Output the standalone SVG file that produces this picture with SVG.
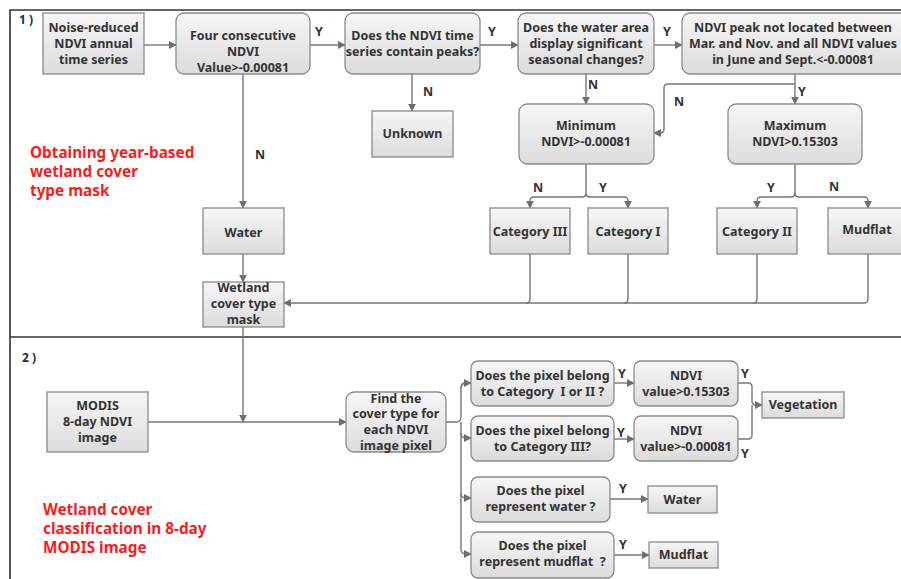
<svg xmlns="http://www.w3.org/2000/svg" width="901" height="579" viewBox="0 0 901 579">
  <defs>
    <linearGradient id="boxFill" x1="0" y1="0" x2="0" y2="1">
      <stop offset="0" stop-color="#f6f6f6"/>
      <stop offset="1" stop-color="#dcdcdc"/>
    </linearGradient>
    <marker id="arr" viewBox="0 0 10 10" refX="9" refY="5" markerWidth="8" markerHeight="8" markerUnits="userSpaceOnUse" orient="auto">
      <path d="M0,0 L10,5 L0,10 z" fill="#6f6f6f"/>
    </marker>
  </defs>
  <style>
    .box { fill: url(#boxFill); stroke: #8a8a8a; stroke-width: 1.3; }
    .t { font-family: "Noto Sans", "Open Sans", sans-serif; font-weight: bold; font-size: 12.5px; fill: #333333; text-anchor: middle; white-space: pre; }
    .lbl { font-family: "Noto Sans", "Open Sans", sans-serif; font-weight: bold; font-size: 12.5px; fill: #333333; }
    .red { font-family: "Noto Sans", "Open Sans", sans-serif; font-weight: bold; font-size: 15.3px; fill: #ff1a1a; }
    .sec { font-family: "Noto Sans", "Open Sans", sans-serif; font-weight: bold; font-size: 12px; fill: #1a2a50; }
    .c { fill: none; stroke: #767676; stroke-width: 1.4; }
    .ca { fill: none; stroke: #767676; stroke-width: 1.4; marker-end: url(#arr); }
    .frame { fill: none; stroke: #333; stroke-width: 1.6; }
  </style>

  <rect width="901" height="579" fill="#ffffff"/>

  <!-- section frame -->
  <g id="frame">
    <path class="frame" d="M10,579 V10 H901"/>
    <path class="frame" d="M10,337 H901"/>
    <text class="sec" x="19" y="24">1 )</text>
    <text class="sec" x="22" y="362">2 )</text>
    <text class="red" x="30" y="158">Obtaining year-based</text>
    <text class="red" x="30" y="177">wetland cover</text>
    <text class="red" x="30" y="196">type mask</text>
    <text class="red" x="43" y="515">Wetland cover</text>
    <text class="red" x="43" y="534">classification in 8-day</text>
    <text class="red" x="43" y="553">MODIS image</text>
  </g>

  <!-- connectors -->
  <g id="connectors">
    <path class="ca" d="M144,45 H176"/>
    <path class="ca" d="M310,45 H345"/>
    <path class="ca" d="M480,45 H518"/>
    <path class="ca" d="M654,45 H682"/>
    <path class="ca" d="M412,74 V111"/>
    <path class="ca" d="M586,74 V104"/>
    <path class="ca" d="M795,74 V104"/>
    <path class="ca" d="M795,84 H668 Q664,84 664,88 V129 Q664,133 660,133 H654"/>
    <path class="ca" d="M243,74 V208"/>
    <path class="ca" d="M243,254 V282"/>
    <path class="ca" d="M586,164 V193 Q586,197 582,197 H534 Q530,197 530,201 V208"/>
    <path class="ca" d="M586,193 Q586,197 590,197 H624 Q628,197 628,201 V208"/>
    <path class="ca" d="M795,164 V193 Q795,197 791,197 H761 Q757,197 757,201 V208"/>
    <path class="ca" d="M795,193 Q795,197 799,197 H864 Q868,197 868,201 V208"/>
    <path class="c" d="M530,254 V299 Q530,303 526,303"/>
    <path class="c" d="M628,254 V299 Q628,303 624,303"/>
    <path class="c" d="M757,254 V299 Q757,303 753,303"/>
    <path class="ca" d="M868,254 V299 Q868,303 864,303 H284"/>
    <path class="ca" d="M243,327 V422"/>
    <path class="ca" d="M148,422 H346"/>
    <path class="c" d="M446,422 H456 Q461,422 461,417 V388 Q461,383 466,383"/>
    <path class="ca" d="M461,388 Q461,383 466,383 H471"/>
    <path class="ca" d="M461,433 Q461,438 466,438 H471"/>
    <path class="ca" d="M461,493 Q461,498 466,498 H471"/>
    <path class="ca" d="M461,422 V549 Q461,554 466,554 H471"/>
    <path class="ca" d="M614,383 H634"/>
    <path class="ca" d="M614,439 H634"/>
    <path class="ca" d="M610,499 H648"/>
    <path class="ca" d="M614,555 H649"/>
    <path class="ca" d="M738,383 H748 Q752,383 752,387 V401 Q752,405 756,405 H762"/>
    <path class="c" d="M738,439 H748 Q752,439 752,435 V405"/>
    <text class="lbl" x="315" y="36">Y</text>
    <text class="lbl" x="488" y="36">Y</text>
    <text class="lbl" x="663" y="36">Y</text>
    <text class="lbl" x="423" y="96">N</text>
    <text class="lbl" x="588" y="89">N</text>
    <text class="lbl" x="798" y="96">Y</text>
    <text class="lbl" x="674" y="106">N</text>
    <text class="lbl" x="255" y="159">N</text>
    <text class="lbl" x="533" y="192">N</text>
    <text class="lbl" x="599" y="192">Y</text>
    <text class="lbl" x="767" y="192">Y</text>
    <text class="lbl" x="829" y="191">N</text>
    <text class="lbl" x="618" y="378">Y</text>
    <text class="lbl" x="617" y="437">Y</text>
    <text class="lbl" x="741" y="378">Y</text>
    <text class="lbl" x="741" y="458">Y</text>
    <text class="lbl" x="619" y="493">Y</text>
    <text class="lbl" x="619" y="549">Y</text>
  </g>

  <!-- part 1 nodes -->
  <g id="n-noise">
    <rect class="box" x="43" y="13" width="101" height="61"/>
    <text class="t" x="93.5" y="31.5">Noise-reduced</text>
    <text class="t" x="93.5" y="47.5">NDVI annual</text>
    <text class="t" x="93.5" y="63.5">time series</text>
  </g>
  <g id="n-four">
    <rect class="box" x="176" y="13" width="134" height="61" rx="8"/>
    <text class="t" x="243" y="39.5">Four consecutive</text>
    <text class="t" x="243" y="56">NDVI</text>
    <text class="t" x="243" y="72">Value&gt;-0.00081</text>
  </g>
  <g id="n-peaks">
    <rect class="box" x="345" y="13" width="135" height="61" rx="8"/>
    <text class="t" x="412.5" y="39.5">Does the NDVI time</text>
    <text class="t" x="412.5" y="56">series contain peaks?</text>
  </g>
  <g id="n-seasonal">
    <rect class="box" x="518" y="13" width="136" height="61" rx="8"/>
    <text class="t" x="586" y="31.5">Does the water area</text>
    <text class="t" x="586" y="47.5">display significant</text>
    <text class="t" x="586" y="63.5">seasonal changes?</text>
  </g>
  <g id="n-peakloc">
    <rect class="box" x="682" y="13" width="230" height="61" rx="8"/>
    <text class="t" x="793" y="31.5">NDVI peak not located between</text>
    <text class="t" x="793" y="47.5">Mar. and Nov. and all NDVI values</text>
    <text class="t" x="793" y="63.5">in June and Sept.&lt;-0.00081</text>
  </g>
  <g id="n-unknown">
    <rect class="box" x="372" y="111" width="81" height="46"/>
    <text class="t" x="412.5" y="138">Unknown</text>
  </g>
  <g id="n-minimum">
    <rect class="box" x="519" y="104" width="135" height="60" rx="8"/>
    <text class="t" x="586" y="129.5">Minimum</text>
    <text class="t" x="586" y="145.5">NDVI&gt;-0.00081</text>
  </g>
  <g id="n-maximum">
    <rect class="box" x="728" y="104" width="134" height="60" rx="8"/>
    <text class="t" x="795" y="129.5">Maximum</text>
    <text class="t" x="795" y="145.5">NDVI&gt;0.15303</text>
  </g>
  <g id="n-water1">
    <rect class="box" x="203" y="208" width="81" height="46"/>
    <text class="t" x="243.5" y="236.5">Water</text>
  </g>
  <g id="n-cat3">
    <rect class="box" x="490" y="208" width="80" height="46"/>
    <text class="t" x="530" y="235.5">Category III</text>
  </g>
  <g id="n-cat1">
    <rect class="box" x="588" y="208" width="80" height="46"/>
    <text class="t" x="628" y="235.5">Category I</text>
  </g>
  <g id="n-cat2">
    <rect class="box" x="717" y="208" width="80" height="46"/>
    <text class="t" x="757" y="235.5">Category II</text>
  </g>
  <g id="n-mudflat1">
    <rect class="box" x="828" y="208" width="80" height="46"/>
    <text class="t" x="867" y="233.5">Mudflat</text>
  </g>
  <g id="n-mask">
    <rect class="box" x="203" y="282" width="81" height="45"/>
    <text class="t" x="243.5" y="291.5">Wetland</text>
    <text class="t" x="243.5" y="307.5">cover type</text>
    <text class="t" x="243.5" y="323.5">mask</text>
  </g>

  <!-- part 2 nodes -->
  <g id="n-modis">
    <rect class="box" x="47" y="392" width="101" height="60"/>
    <text class="t" x="97.5" y="409.5">MODIS</text>
    <text class="t" x="97.5" y="425.5">8-day NDVI</text>
    <text class="t" x="97.5" y="441.5">image</text>
  </g>
  <g id="n-find">
    <rect class="box" x="346" y="392" width="100" height="60" rx="8"/>
    <text class="t" x="396" y="402.5">Find the</text>
    <text class="t" x="396" y="418">cover type for</text>
    <text class="t" x="396" y="434">each NDVI</text>
    <text class="t" x="396" y="450">image pixel</text>
  </g>
  <g id="n-q1">
    <rect class="box" x="471" y="361" width="143" height="45" rx="7"/>
    <text class="t" x="542.5" y="379.5">Does the pixel belong</text>
    <text class="t" x="542.5" y="395.5" xml:space="preserve">to Category  I or II ?</text>
  </g>
  <g id="n-q2">
    <rect class="box" x="471" y="416" width="143" height="45" rx="7"/>
    <text class="t" x="542.5" y="434.5">Does the pixel belong</text>
    <text class="t" x="542.5" y="450.5">to Category III?</text>
  </g>
  <g id="n-q3">
    <rect class="box" x="471" y="477" width="139" height="45" rx="7"/>
    <text class="t" x="540.5" y="494.5">Does the pixel</text>
    <text class="t" x="540.5" y="510.5">represent water ?</text>
  </g>
  <g id="n-q4">
    <rect class="box" x="471" y="532" width="143" height="46" rx="7"/>
    <text class="t" x="542.5" y="549.5">Does the pixel</text>
    <text class="t" x="542.5" y="565.5" xml:space="preserve">represent mudflat  ?</text>
  </g>
  <g id="n-ndvi1">
    <rect class="box" x="634" y="361" width="104" height="45" rx="7"/>
    <text class="t" x="686" y="379.5">NDVI</text>
    <text class="t" x="686" y="395.5">value&gt;0.15303</text>
  </g>
  <g id="n-ndvi2">
    <rect class="box" x="634" y="416" width="104" height="45" rx="7"/>
    <text class="t" x="686" y="434.5">NDVI</text>
    <text class="t" x="686" y="450.5">value&gt;-0.00081</text>
  </g>
  <g id="n-vegetation">
    <rect class="box" x="762" y="392" width="82" height="26"/>
    <text class="t" x="803" y="409">Vegetation</text>
  </g>
  <g id="n-water2">
    <rect class="box" x="648" y="486" width="69" height="27"/>
    <text class="t" x="682.5" y="503.5">Water</text>
  </g>
  <g id="n-mudflat2">
    <rect class="box" x="649" y="542" width="69" height="26"/>
    <text class="t" x="683.5" y="559">Mudflat</text>
  </g>
</svg>
